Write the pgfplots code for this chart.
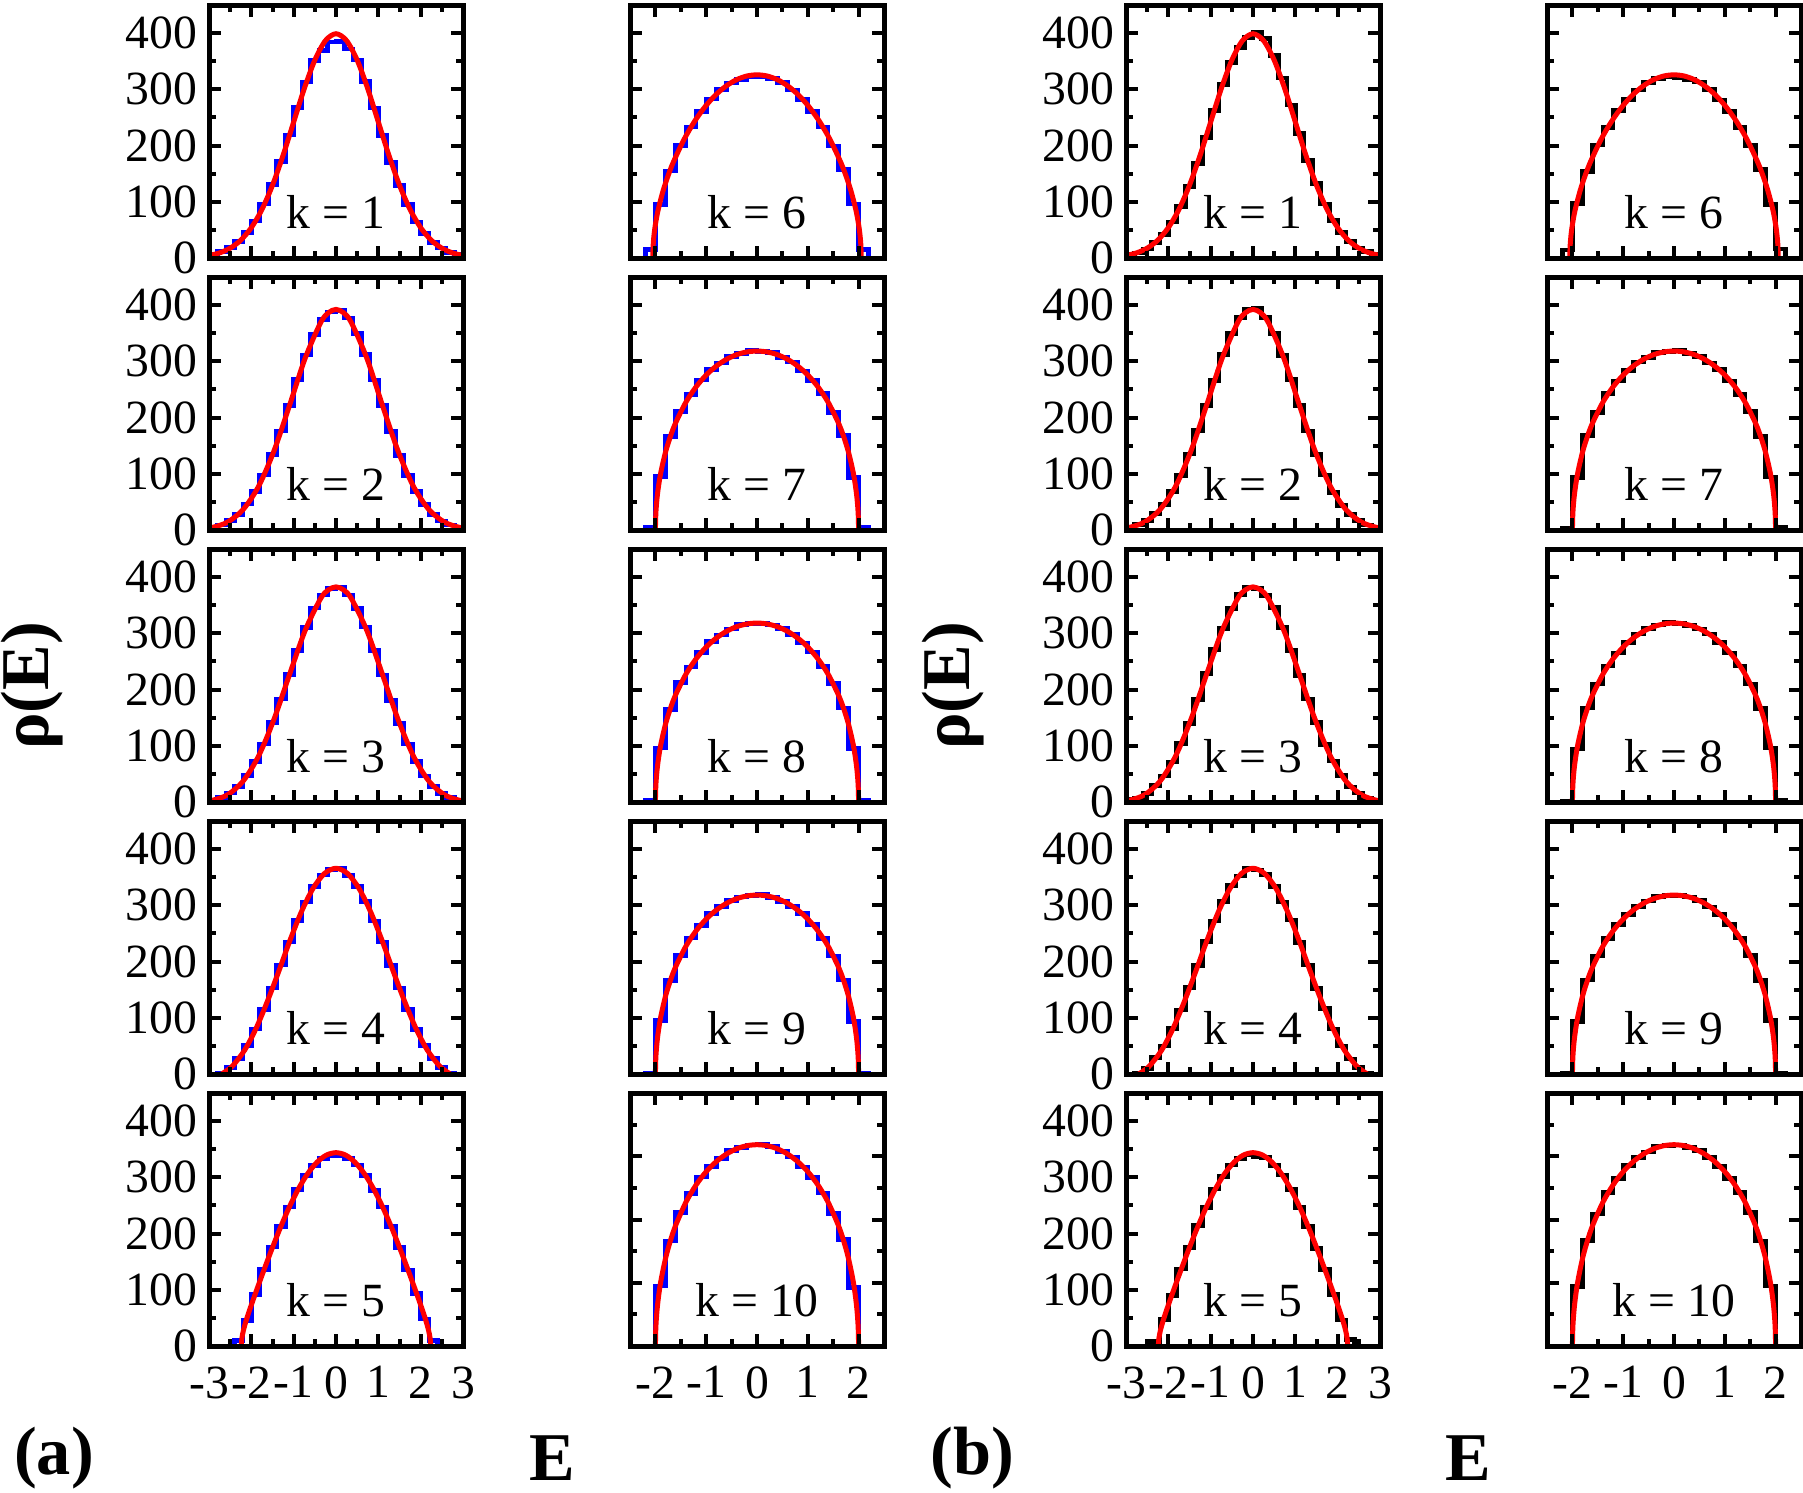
\documentclass[border=0pt]{standalone}
\usepackage{fontspec}
\setmainfont{Liberation Serif}
\usepackage{pgfplots}
\usepackage{pgfplotstable}
\pgfplotsset{compat=1.18}

% ---------- histogram counts, bin width 0.2 (left bin edges) ----------
% columns: a = panel (a), b = panel (b), number = k
\pgfplotstableread{
E a1 b1 a2 b2 a3 b3 a4 b4 a5 b5
-3.0 0 0 0 0 0 0 0 0 0 0
-3.0 5 6 5 4 3 4 0 0 0 0
-2.8 11 9 9 10 8 7 1 2 0 0
-2.6 19 16 17 17 16 15 11 10 0 0
-2.4 29 27 28 29 28 29 28 29 10 8
-2.2 45 42 46 45 47 46 51 50 45 47
-2.0 66 64 68 69 72 71 80 81 92 90
-1.8 96 92 98 97 103 104 115 114 136 137
-1.6 131 127 134 135 141 140 153 154 176 175
-1.4 172 168 176 177 183 182 194 193 213 214
-1.2 219 214 222 221 227 228 235 236 247 246
-1.0 268 262 268 266 270 271 273 272 278 279
-0.8 313 309 311 312 310 309 306 307 303 302
-0.6 351 348 348 350 345 344 334 335 321 322
-0.4 369 374 375 378 368 369 354 352 334 333
-0.2 384 392 388 392 380 382 364 366 338 340
0.0 385 401 390 394 381 380 365 363 339 337
0.2 372 390 377 378 368 367 353 355 334 335
0.4 352 360 350 349 344 346 334 333 322 321
0.6 314 320 312 310 311 310 307 306 303 304
0.8 267 272 267 268 269 270 272 274 277 278
1.0 218 222 221 222 226 225 235 234 247 246
1.2 170 174 175 176 181 183 193 194 212 213
1.4 129 132 133 134 140 141 153 152 175 174
1.6 95 96 97 98 103 102 115 116 135 136
1.8 64 67 68 67 72 73 79 80 93 92
2.0 44 45 45 44 46 47 51 50 48 46
2.2 28 29 28 27 28 27 28 27 10 12
2.4 18 18 16 17 15 16 11 12 0 0
2.6 10 11 9 9 8 7 1 1 0 0
2.8 6 6 5 5 3 3 0 0 0 0
3.0 6 6 5 5 3 3 0 0 0 0
3.0 0 0 0 0 0 0 0 0 0 0
}\histlow

\pgfplotstableread{
E a6 b6 a7 b7 a8 b8 a9 b9 a10 b10
-2.2 0 0 0 0 0 0 0 0 0 0
-2.2 15 14 4 3 3 2 2 2 0 0
-2.0 95 97 95 93 96 94 95 93 95 94
-1.8 155 154 166 168 165 167 166 167 166 167
-1.6 200 201 211 209 212 210 211 210 211 209
-1.4 233 232 241 243 240 242 242 241 241 243
-1.2 261 262 267 265 266 265 264 266 267 265
-1.0 283 282 285 284 286 284 285 284 284 285
-0.8 300 299 297 299 297 299 298 298 297 298
-0.6 311 312 309 307 308 309 309 308 309 307
-0.4 318 319 314 316 316 315 315 316 314 316
-0.2 322 323 319 318 317 319 317 318 318 317
0.0 322 321 317 319 318 317 319 317 319 318
0.2 319 318 316 314 315 314 314 315 315 314
0.4 312 313 307 309 309 308 307 309 308 309
0.6 299 300 299 297 298 299 298 297 299 298
0.8 282 281 283 285 283 284 285 284 283 284
1.0 260 261 266 265 267 265 266 266 266 265
1.2 233 232 243 241 241 242 241 242 242 243
1.4 199 200 209 211 211 210 210 211 210 211
1.6 157 158 168 166 167 166 167 166 168 166
1.8 96 95 93 94 95 96 94 95 93 95
2.0 15 16 5 4 3 3 2 2 0 0
2.2 15 16 5 4 3 3 2 2 0 0
2.2 0 0 0 0 0 0 0 0 0 0
}\histhigh

% ---------- smooth densities ----------
\pgfplotstableread{
E rho
-3 4.4
-2.75 9.1
-2.5 17.5
-2.25 31.7
-2 54.0
-1.75 86.3
-1.5 129.5
-1.25 182.6
-1 241.9
-0.75 301.1
-0.5 352.0
-0.25 386.6
0 398.9
0.25 386.6
0.5 352.0
0.75 301.1
1 241.9
1.25 182.6
1.5 129.5
1.75 86.3
2 54.0
2.25 31.7
2.5 17.5
2.75 9.1
3 4.4
}\fitone

\pgfplotstableread{
E rho
-3.2864 1.2
-2.9212 4.6
-2.5561 14.3
-2.1909 36.7
-1.8258 78.1
-1.4606 141.6
-1.0955 222.2
-0.7303 305.2
-0.3652 368.5
-0.1826 386.3
0 392.4
0.1826 386.3
0.3652 368.5
0.7303 305.2
1.0955 222.2
1.4606 141.6
1.8258 78.1
2.1909 36.7
2.5561 14.3
2.9212 4.6
3.2864 1.2
}\fittwo

\pgfplotstableread{
E rho
-3.2864 0.3
-2.9212 3.1
-2.5561 13.1
-2.1909 37.5
-1.8258 82.2
-1.4606 148.0
-1.0955 227.3
-0.7303 304.8
-0.3652 361.6
-0.1826 377.2
0 382.6
0.1826 377.2
0.3652 361.6
0.7303 304.8
1.0955 227.3
1.4606 148.0
1.8258 82.2
2.1909 37.5
2.5561 13.1
2.9212 3.1
3.2864 0.3
}\fitthree

\pgfplotstableread{
E rho
-2.6968 0
-2.562 7.1
-2.4271 15.8
-2.1574 42.5
-1.8878 81.2
-1.6181 129.7
-1.3484 183.4
-1.0787 239.4
-0.809 289.9
-0.5394 330.5
-0.2697 356.8
0 365.9
0.2697 356.8
0.5394 330.5
0.809 289.9
1.0787 239.4
1.3484 183.4
1.6181 129.7
1.8878 81.2
2.1574 42.5
2.4271 15.8
2.562 7.1
2.6968 0
}\fitfour

\pgfplotstableread{
E rho
-2.2361 0
-2.2249 12.7
-2.1914 26.4
-2.1243 44.8
-2.0125 70.3
-1.7889 117.4
-1.5652 162.6
-1.3416 205.5
-1.118 244.6
-0.8944 278.6
-0.6708 306.4
-0.4472 327.0
-0.2236 339.7
0 343.9
0.2236 339.7
0.4472 327.0
0.6708 306.4
0.8944 278.6
1.118 244.6
1.3416 205.5
1.5652 162.6
1.7889 117.4
2.0125 70.3
2.1243 44.8
2.1914 26.4
2.2249 12.7
2.2361 0
}\fitfive

\pgfplotstableread{
E rho
-2.052 0
-2.0417 26.4
-2.0109 53.0
-1.9494 84.3
-1.8468 120.1
-1.7442 148.0
-1.6416 171.6
-1.4364 210.9
-1.2312 242.7
-1.026 268.7
-0.8208 289.5
-0.6156 305.4
-0.4104 316.8
-0.2052 323.6
0 325.8
0.2052 323.6
0.4104 316.8
0.6156 305.4
0.8208 289.5
1.026 268.7
1.2312 242.7
1.4364 210.9
1.6416 171.6
1.7442 148.0
1.8468 120.1
1.9494 84.3
2.0109 53.0
2.0417 26.4
2.052 0
}\fitsix

\pgfplotstableread{
E rho
-2 0
-1.99 31.8
-1.96 63.3
-1.9 99.4
-1.8 138.7
-1.7 167.7
-1.6 191.0
-1.4 227.3
-1.2 254.6
-1 275.7
-0.8 291.7
-0.6 303.6
-0.4 311.9
-0.2 316.7
0 318.3
0.2 316.7
0.4 311.9
0.6 303.6
0.8 291.7
1 275.7
1.2 254.6
1.4 227.3
1.6 191.0
1.7 167.7
1.8 138.7
1.9 99.4
1.96 63.3
1.99 31.8
2 0
}\fitsc

\newcommand{\tlfont}{\fontsize{14.3}{14.3}\selectfont}
\newcommand{\lbfont}{\fontsize{20.5}{20.5}\selectfont\bfseries}

\pgfplotsset{
  panel/.style={
    scale only axis, width=76.2pt, height=75.9pt,
    anchor=south west,
    ymin=0, ymax=450,
    axis line style={line width=1.5pt},
    every tick/.style={black, line width=1.2pt},
    major tick length=3.6pt, minor tick length=2.1pt,
    tick align=inside, tick pos=both,
    ytick={0,100,200,300,400}, minor ytick={50,150,250,350},
    xticklabels={}, yticklabels={},
    tick label style={font=\tlfont},
    xticklabel style={yshift=-2.6pt},
    axis on top, clip=true,
  },
  wide/.style={xmin=-3, xmax=3, xtick={-3,-2,-1,0,1,2,3},
    minor xtick={-2.5,-1.5,-0.5,0.5,1.5,2.5}},
  narrow/.style={xmin=-2.5, xmax=2.5, xtick={-2,-1,0,1,2},
    minor xtick={-1.5,-0.5,0.5,1.5}},
  ylab/.style={yticklabels={0,100,200,300,400}},
  xlabwide/.style={xticklabels={-3,-2,-1,0,1,2,3}},
  xlabnarrow/.style={xticklabels={-2,-1,0,1,2}},
  hist/.style={const plot, line width=1.4pt, mark=none},
  fit/.style={red, line width=1.5pt, smooth, tension=0.5, mark=none},
}

\newcommand{\klabel}[1]{\node[anchor=base, font=\tlfont, inner sep=0pt] at (rel axis cs:0.5,0.118) {#1};}

\begin{document}
\begin{tikzpicture}
\useasboundingbox (0pt,0pt) rectangle (540.9pt,-447.6pt);

% ===================== (a) =====================
\begin{axis}[panel, wide, ylab, at={(62.7pt,-77.4pt)}]
\addplot[hist, blue] table[x=E, y=a1] {\histlow};
\addplot[fit] table[x=E, y=rho] {\fitone};
\klabel{k = 1}
\end{axis}
\begin{axis}[panel, wide, ylab, at={(62.7pt,-159.0pt)}]
\addplot[hist, blue] table[x=E, y=a2] {\histlow};
\addplot[fit] table[x=E, y=rho] {\fittwo};
\klabel{k = 2}
\end{axis}
\begin{axis}[panel, wide, ylab, at={(62.7pt,-240.6pt)}]
\addplot[hist, blue] table[x=E, y=a3] {\histlow};
\addplot[fit] table[x=E, y=rho] {\fitthree};
\klabel{k = 3}
\end{axis}
\begin{axis}[panel, wide, ylab, at={(62.7pt,-322.2pt)}]
\addplot[hist, blue] table[x=E, y=a4] {\histlow};
\addplot[fit] table[x=E, y=rho] {\fitfour};
\klabel{k = 4}
\end{axis}
\begin{axis}[panel, wide, ylab, xlabwide, at={(62.7pt,-403.8pt)}]
\addplot[hist, blue] table[x=E, y=a5] {\histlow};
\addplot[fit] table[x=E, y=rho] {\fitfive};
\klabel{k = 5}
\end{axis}

\begin{axis}[panel, narrow, at={(189.0pt,-77.4pt)}]
\addplot[hist, blue] table[x=E, y=a6] {\histhigh};
\addplot[fit] table[x=E, y=rho] {\fitsix};
\klabel{k = 6}
\end{axis}
\begin{axis}[panel, narrow, at={(189.0pt,-159.0pt)}]
\addplot[hist, blue] table[x=E, y=a7] {\histhigh};
\addplot[fit] table[x=E, y=rho] {\fitsc};
\klabel{k = 7}
\end{axis}
\begin{axis}[panel, narrow, at={(189.0pt,-240.6pt)}]
\addplot[hist, blue] table[x=E, y=a8] {\histhigh};
\addplot[fit] table[x=E, y=rho] {\fitsc};
\klabel{k = 8}
\end{axis}
\begin{axis}[panel, narrow, at={(189.0pt,-322.2pt)}]
\addplot[hist, blue] table[x=E, y=a9] {\histhigh};
\addplot[fit] table[x=E, y=rho] {\fitsc};
\klabel{k = 9}
\end{axis}
\begin{axis}[panel, narrow, xlabnarrow, ymax=400, at={(189.0pt,-403.8pt)}]
\addplot[hist, blue] table[x=E, y=a10] {\histhigh};
\addplot[fit] table[x=E, y=rho] {\fitsc};
\klabel{k = 10}
\end{axis}

% ===================== (b) =====================
\begin{axis}[panel, wide, ylab, at={(337.8pt,-77.4pt)}]
\addplot[hist, black] table[x=E, y=b1] {\histlow};
\addplot[fit] table[x=E, y=rho] {\fitone};
\klabel{k = 1}
\end{axis}
\begin{axis}[panel, wide, ylab, at={(337.8pt,-159.0pt)}]
\addplot[hist, black] table[x=E, y=b2] {\histlow};
\addplot[fit] table[x=E, y=rho] {\fittwo};
\klabel{k = 2}
\end{axis}
\begin{axis}[panel, wide, ylab, at={(337.8pt,-240.6pt)}]
\addplot[hist, black] table[x=E, y=b3] {\histlow};
\addplot[fit] table[x=E, y=rho] {\fitthree};
\klabel{k = 3}
\end{axis}
\begin{axis}[panel, wide, ylab, at={(337.8pt,-322.2pt)}]
\addplot[hist, black] table[x=E, y=b4] {\histlow};
\addplot[fit] table[x=E, y=rho] {\fitfour};
\klabel{k = 4}
\end{axis}
\begin{axis}[panel, wide, ylab, xlabwide, at={(337.8pt,-403.8pt)}]
\addplot[hist, black] table[x=E, y=b5] {\histlow};
\addplot[fit] table[x=E, y=rho] {\fitfive};
\klabel{k = 5}
\end{axis}

\begin{axis}[panel, narrow, at={(464.1pt,-77.4pt)}]
\addplot[hist, black] table[x=E, y=b6] {\histhigh};
\addplot[fit] table[x=E, y=rho] {\fitsix};
\klabel{k = 6}
\end{axis}
\begin{axis}[panel, narrow, at={(464.1pt,-159.0pt)}]
\addplot[hist, black] table[x=E, y=b7] {\histhigh};
\addplot[fit] table[x=E, y=rho] {\fitsc};
\klabel{k = 7}
\end{axis}
\begin{axis}[panel, narrow, at={(464.1pt,-240.6pt)}]
\addplot[hist, black] table[x=E, y=b8] {\histhigh};
\addplot[fit] table[x=E, y=rho] {\fitsc};
\klabel{k = 8}
\end{axis}
\begin{axis}[panel, narrow, at={(464.1pt,-322.2pt)}]
\addplot[hist, black] table[x=E, y=b9] {\histhigh};
\addplot[fit] table[x=E, y=rho] {\fitsc};
\klabel{k = 9}
\end{axis}
\begin{axis}[panel, narrow, xlabnarrow, ymax=400, at={(464.1pt,-403.8pt)}]
\addplot[hist, black] table[x=E, y=b10] {\histhigh};
\addplot[fit] table[x=E, y=rho] {\fitsc};
\klabel{k = 10}
\end{axis}

% ---------- outer labels ----------
\node[rotate=90, font=\lbfont] at (9.6pt,-205.8pt) {ρ(E)};
\node[rotate=90, font=\lbfont] at (285.9pt,-205.8pt) {ρ(E)};
\node[font=\lbfont] at (16.2pt,-437.4pt) {(a)};
\node[font=\lbfont] at (165.6pt,-437.4pt) {E};
\node[font=\lbfont] at (291.6pt,-437.4pt) {(b)};
\node[font=\lbfont] at (440.4pt,-437.4pt) {E};
\end{tikzpicture}
\end{document}
